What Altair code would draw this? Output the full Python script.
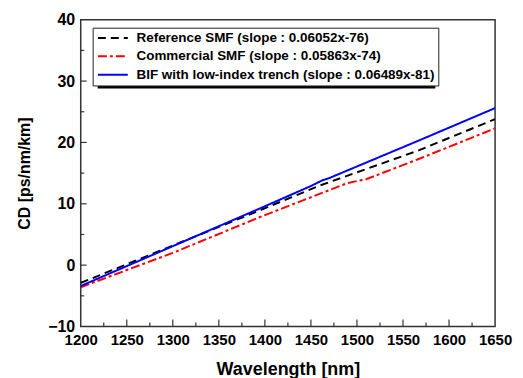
import altair as alt
import pandas as pd

# ---- data ----
series_names = [
    "Reference SMF (slope : 0.06052x-76)",
    "Commercial SMF (slope : 0.05863x-74)",
    "BIF with low-index trench (slope : 0.06489x-81)",
]
wl_ref = [1200, 1300, 1394, 1460, 1567, 1650]
cd_ref = [-2.9, 3.2, 8.9, 13.0, 18.7, 23.8]
wl_com = [1200, 1300, 1394, 1490, 1510, 1567, 1650]
cd_com = [-3.6, 2.0, 7.8, 13.4, 14.0, 17.3, 22.3]
wl_bif = [1200, 1394, 1450, 1462, 1470, 1567, 1650]
cd_bif = [-3.4, 9.2, 12.9, 13.8, 14.2, 20.3, 25.6]

x_ticks = [1200, 1250, 1300, 1350, 1400, 1450, 1500, 1550, 1600, 1650]
x_minor = [1225, 1275, 1325, 1375, 1425, 1475, 1525, 1575, 1625]
y_ticks = [-10, 0, 10, 20, 30, 40]
y_minor = [-5, 5, 15, 25, 35]

rows = []
for name, wl, cd in zip(series_names, [wl_ref, wl_com, wl_bif], [cd_ref, cd_com, cd_bif]):
    for i, (w, c) in enumerate(zip(wl, cd)):
        rows.append({"series": name, "wl": w, "cd": c, "i": i})
df = pd.DataFrame(rows)

W, H = 416, 308
FONT = "Liberation Sans"

xs = alt.Scale(domain=[1200, 1650], nice=False, zero=False)
ys = alt.Scale(domain=[-10, 40], nice=False, zero=False)

lines = alt.Chart(df).mark_line(strokeWidth=2, clip=True).encode(
    x=alt.X("wl:Q", scale=xs, title="Wavelength [nm]",
            axis=alt.Axis(values=x_ticks, format="d", ticks=False, domain=False, grid=False,
                          labelFlush=False, labelOverlap=False,
                          labelFontSize=15, labelFontWeight="bold", labelPadding=6,
                          titleFontSize=18, titleFontWeight="bold", titlePadding=13)),
    y=alt.Y("cd:Q", scale=ys, title="CD [ps/nm/km]",
            axis=alt.Axis(values=y_ticks, format="d", ticks=False, domain=False, grid=False,
                          labelFlush=False, labelOverlap=False,
                          labelFontSize=16, labelFontWeight="bold", labelPadding=6,
                          titleFontSize=16, titleFontWeight="bold", titlePadding=15)),
    color=alt.Color("series:N", scale=alt.Scale(domain=series_names,
                                                range=["#000000", "#ff0000", "#0000ff"]),
                    legend=alt.Legend(title=None, orient="none", legendX=12, legendY=8)),
    strokeDash=alt.StrokeDash("series:N", scale=alt.Scale(domain=series_names,
                                                          range=[[8, 5], [9, 3, 3, 3], [1, 0]]),
                              legend=alt.Legend(title=None, orient="none", legendX=12, legendY=8)),
    order="i:Q",
)

xmaj = alt.Chart(pd.DataFrame({"t": x_ticks[1:-1]})).mark_rule(color="#333", strokeWidth=1.2).encode(
    x=alt.X("t:Q", scale=xs), y=alt.value(H), y2=alt.value(H - 7))
xmin = alt.Chart(pd.DataFrame({"t": x_minor})).mark_rule(color="#333", strokeWidth=1.2).encode(
    x=alt.X("t:Q", scale=xs), y=alt.value(H), y2=alt.value(H - 4))
ymaj = alt.Chart(pd.DataFrame({"t": y_ticks[1:-1]})).mark_rule(color="#333", strokeWidth=1.2).encode(
    y=alt.Y("t:Q", scale=ys), x=alt.value(0), x2=alt.value(6))
ymin = alt.Chart(pd.DataFrame({"t": y_minor})).mark_rule(color="#333", strokeWidth=1.2).encode(
    y=alt.Y("t:Q", scale=ys), x=alt.value(0), x2=alt.value(3.5))

# legend drop shadow
shadow = alt.Chart(pd.DataFrame({"a": [0]})).mark_rect(color="black").encode(
    x=alt.value(17), x2=alt.value(356), y=alt.value(13), y2=alt.value(69))

chart = alt.layer(shadow, lines, xmaj, xmin, ymaj, ymin).properties(
    width=W, height=H,
    autosize=alt.AutoSizeParams(type="none"),
    padding={"left": 73, "top": 11, "right": 20, "bottom": 70},
).configure(font=FONT).configure_view(
    stroke="#333", strokeWidth=1.5
).configure_axis(
    labelColor="black", titleColor="black", labelFont=FONT, titleFont=FONT
).configure_legend(
    fillColor="white", strokeColor="#222", padding=3.5, rowPadding=3.5,
    labelFont=FONT, labelFontSize=13.5, labelFontWeight="bold",
    labelColor="black", labelLimit=600, labelOffset=27,
    symbolType="M-1,0H5", symbolSize=100, symbolStrokeWidth=2,
)

chart.save("out.html", embed_options={"renderer": "svg", "actions": False})
